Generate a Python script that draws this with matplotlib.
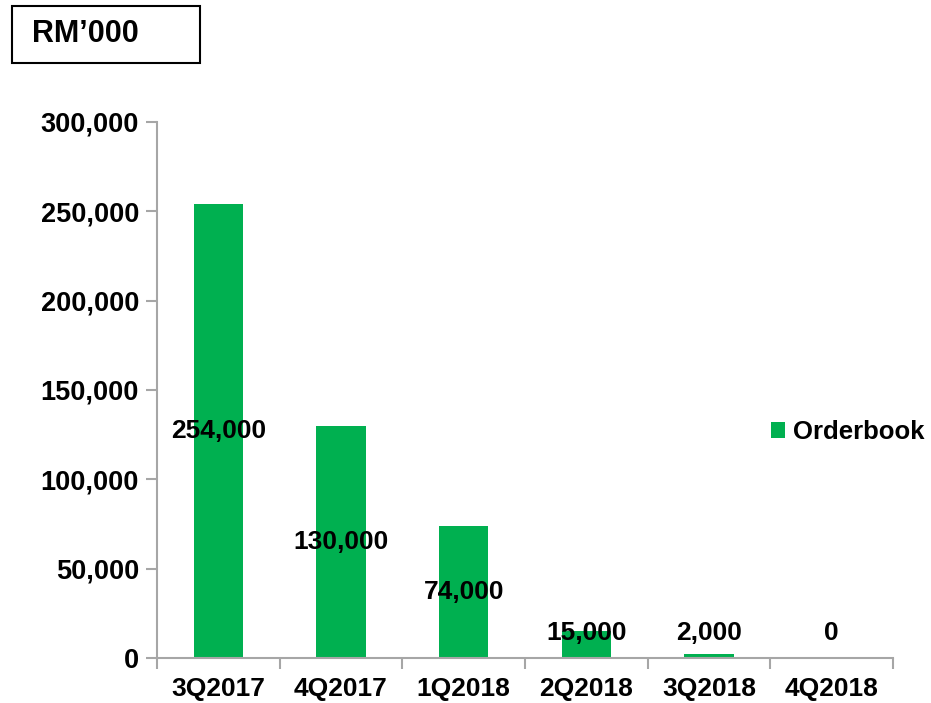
import matplotlib.pyplot as plt
from matplotlib.patches import Rectangle

quarters = ['3Q2017', '4Q2017', '1Q2018', '2Q2018', '3Q2018', '4Q2018']
orderbook = [254000, 130000, 74000, 15000, 2000, 0]
yticks = [0, 50000, 100000, 150000, 200000, 250000, 300000]

plt.rcParams['font.family'] = ['Liberation Sans', 'DejaVu Sans']
plt.rcParams['font.weight'] = 'bold'
green = '#00B050'
grey = '#A6A6A6'

fig = plt.figure(figsize=(9.31, 7.03), dpi=100)
ax = fig.add_axes([157/931, 1-658/703, (893-157)/931, (658-122)/703])

x = range(len(quarters))
ax.bar(x, orderbook, width=0.4, color=green, label='Orderbook', zorder=2)

# data labels centred in the bars, kept clear of the axis
for i, v in enumerate(orderbook):
    ax.text(i, max(v / 2, 14000), f'{v:,}', ha='center', va='center',
            fontsize=19, fontweight='bold', color='black', zorder=3)

ax.set_xlim(-0.5, len(quarters) - 0.5)
ax.set_ylim(0, 300000)
ax.set_yticks(yticks)
ax.set_yticklabels([f'{t:,}' for t in yticks], fontsize=19.5, fontweight='bold')
ax.set_xticks([i + 0.5 for i in range(-1, len(quarters))], minor=False)
ax.set_xticklabels([''] * (len(quarters) + 1))
ax.set_xticks(list(x), minor=True)
ax.set_xticklabels(quarters, minor=True, fontsize=19, fontweight='bold')
ax.tick_params(axis='x', which='major', length=8, width=1.5, color=grey, direction='out')
ax.tick_params(axis='x', which='minor', length=0, pad=14)
ax.tick_params(axis='y', length=8, width=1.5, color=grey, direction='out', pad=5)

for s in ['top', 'right']:
    ax.spines[s].set_visible(False)
for s in ['left', 'bottom']:
    ax.spines[s].set_color(grey)
    ax.spines[s].set_linewidth(1.5)

fig.legend(loc='center left', bbox_to_anchor=(771/931, 1-432/703), frameon=False,
           prop={'size': 18.5, 'weight': 'bold'}, handlelength=0.55, handleheight=0.55,
           handletextpad=0.3, borderaxespad=0, borderpad=0)

fig.patches.append(Rectangle((12/931, 1-63/703), 188/931, 57/703, transform=fig.transFigure,
                             fill=False, edgecolor='black', linewidth=1.5))
fig.text(32/931, 1-34/703, 'RM\u2019000', fontsize=22, fontweight='bold', va='center', ha='left')

fig.savefig('out.png', dpi=100)
